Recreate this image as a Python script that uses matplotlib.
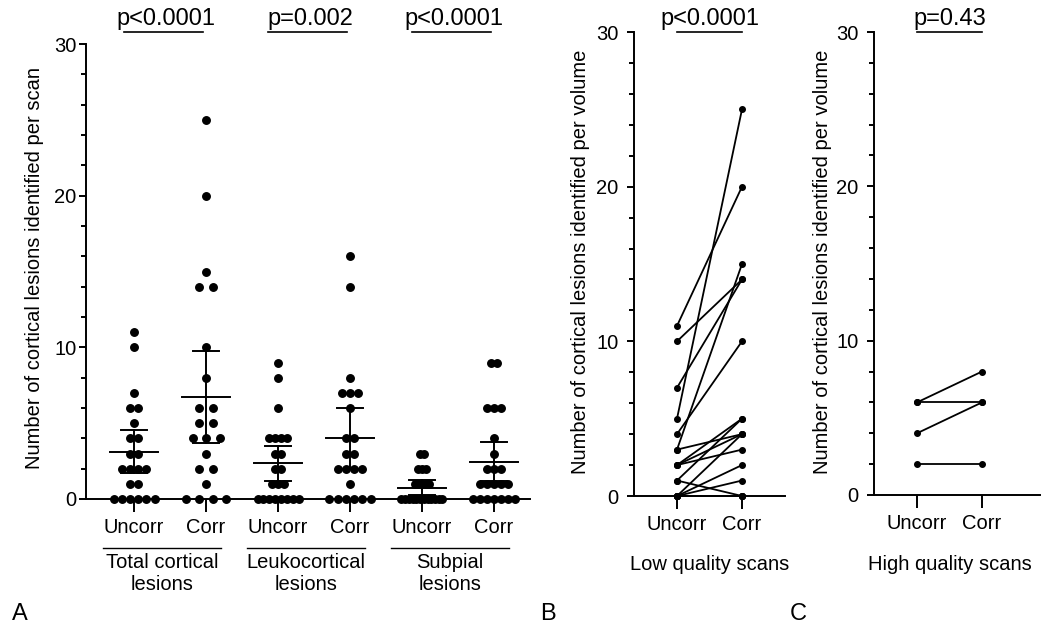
import matplotlib
matplotlib.use("Agg")
import matplotlib.pyplot as plt
import numpy as np

plt.rcParams["font.family"] = ["Liberation Sans", "DejaVu Sans"]
plt.rcParams["font.size"] = 14.5

W, H = 1050, 632

# ─── Dados ────────────────────────────────────────────────────────────────────

CATEGORIES = ["Uncorr", "Corr"]
GROUPS = ["Total cortical\nlesions", "Leukocortical\nlesions", "Subpial\nlesions"]

total_uncorr = [11, 10, 7, 6, 6, 5, 4, 4, 3, 3, 2, 2, 2, 2, 1, 1, 0, 0, 0, 0, 0, 0]
total_corr = [25, 20, 15, 14, 14, 10, 8, 6, 6, 5, 5, 4, 4, 4, 3, 2, 2, 1, 0, 0, 0, 0]
leuko_uncorr = [9, 8, 6, 4, 4, 4, 4, 3, 3, 2, 2, 1, 1, 1, 0, 0, 0, 0, 0, 0, 0, 0]
leuko_corr = [16, 14, 8, 7, 7, 7, 6, 4, 4, 3, 3, 2, 2, 2, 2, 1, 0, 0, 0, 0, 0, 0]
subpial_uncorr = [3, 3, 2, 2, 2, 1, 1, 1, 1, 1, 0, 0, 0, 0, 0, 0, 0, 0, 0, 0, 0, 0]
subpial_corr = [9, 9, 6, 6, 6, 4, 3, 2, 2, 2, 1, 1, 1, 1, 1, 0, 0, 0, 0, 0, 0, 0]

means = [3.12, 6.7, 2.35, 4.0, 0.75, 2.45]
ci_low = [1.74, 3.67, 1.2, 2.0, 0.25, 1.2]
ci_high = [4.55, 9.78, 3.5, 6.0, 1.25, 3.74]

p_values_a = ["p<0.0001", "p=0.002", "p<0.0001"]

# pares (Uncorr -> Corr) por volume
low_uncorr = [11, 10, 7, 5, 4, 3, 3, 2, 2, 2, 1, 1, 0, 0, 0, 0, 0, 0]
low_corr = [20, 14, 14, 25, 10, 15, 4, 5, 4, 3, 0, 5, 4, 2, 1, 0, 0, 0]
high_uncorr = [6, 6, 4, 2]
high_corr = [8, 6, 6, 2]
p_low = "p<0.0001"
p_high = "p=0.43"

PX_A = 72.0  # pixels por categoria no painel A


# ─── Helpers ──────────────────────────────────────────────────────────────────

def px_axes(left, right, bottom, top):
    return [left / W, (H - bottom) / H, (right - left) / W, (bottom - top) / H]


def swarm_offsets(values, width_px=41, max_step_px=13.5):
    """Espalha pontos iguais na horizontal, como no GraphPad: o espaçamento
    depende da linha mais cheia da coluna."""
    vals = np.asarray(values)
    _, counts = np.unique(vals, return_counts=True)
    widest = counts.max()
    step = max_step_px if widest < 2 else min(max_step_px, width_px / (widest - 1))
    step /= PX_A
    xs = np.zeros(len(vals))
    for v in np.unique(vals):
        idx = np.where(vals == v)[0]
        n = len(idx)
        xs[idx] = (np.arange(n) - (n - 1) / 2) * step
    return xs


def style_axis(ax, ypad=2):
    ax.set_ylim(0, 30)
    ax.set_yticks([0, 10, 20, 30])
    ax.set_yticks(np.arange(0, 31, 2), minor=True)
    for side in ("top", "right"):
        ax.spines[side].set_visible(False)
    for side in ("left", "bottom"):
        ax.spines[side].set_linewidth(1.4)
    ax.tick_params(axis="y", which="major", length=5, width=1.4, pad=ypad)
    ax.tick_params(axis="y", which="minor", length=3.5, width=1.4)
    ax.tick_params(axis="x", which="major", length=9, width=1.4, pad=5)
    ax.tick_params(axis="x", which="minor", length=0)


def ypx(y_pixel, bottom, top):
    # converte y em pixel da figura para fração do eixo
    return (bottom - y_pixel) / (bottom - top)


fig = plt.figure(figsize=(W / 100, H / 100), dpi=100)

# ─── Painel A ─────────────────────────────────────────────────────────────────

A_BOT, A_TOP = 499, 44
axA = fig.add_axes(px_axes(86, 530, A_BOT, A_TOP))
style_axis(axA)
axA.set_xlim((86 - 134) / PX_A, (530 - 134) / PX_A)

series = [total_uncorr, total_corr, leuko_uncorr, leuko_corr,
          subpial_uncorr, subpial_corr]
for i, vals in enumerate(series):
    xs = i + swarm_offsets(vals)
    axA.plot(xs, vals, "o", color="black", markersize=5.4, clip_on=False,
             zorder=3)
    axA.plot([i - 0.33, i + 0.33], [means[i]] * 2, color="black", lw=1.4,
             zorder=4, clip_on=False)
    axA.plot([i, i], [ci_low[i], ci_high[i]], color="black", lw=1.4, zorder=4)
    for c in (ci_low[i], ci_high[i]):
        axA.plot([i - 0.18, i + 0.18], [c, c], color="black", lw=1.4, zorder=4)

axA.set_xticks(range(6))
axA.set_xticklabels(CATEGORIES * 3)

tr = axA.get_xaxis_transform()
for g, label in enumerate(GROUPS):
    c = 2 * g + 0.5 - 0.11
    y_line = ypx(548, A_BOT, A_TOP)
    axA.plot([c - 0.82, c + 0.82], [y_line] * 2, color="black", lw=1.0,
             transform=tr, clip_on=False)
    axA.text(c, ypx(553, A_BOT, A_TOP), label, transform=tr,
             ha="center", va="top", linespacing=1.2)
    # comparação
    x0, x1 = 2 * g - 0.14, 2 * g + 1 - 0.04
    y_bar = ypx(32, A_BOT, A_TOP)
    axA.plot([x0, x1], [y_bar] * 2, color="black", lw=1.2, transform=tr,
             clip_on=False)
    axA.text((x0 + x1) / 2 + 0.04, y_bar + 0.005, p_values_a[g], transform=tr,
             ha="center", va="bottom", fontsize=17)

fig.text(35 / W, 1 - 268 / H, "Number of cortical lesions identified per scan",
         rotation=90, ha="center", va="center")


# ─── Painéis B e C ────────────────────────────────────────────────────────────

def paired_panel(left, right, bottom, top, x_cat0, uncorr, corr, ptext,
                 xlabel, ylabel_x):
    ax = fig.add_axes(px_axes(left, right, bottom, top))
    style_axis(ax, ypad=6)
    ax.set_xlim((left - x_cat0) / 65, (right - x_cat0) / 65)
    for u, c in zip(uncorr, corr):
        ax.plot([0, 1], [u, c], "-o", color="black", lw=1.3, markersize=4,
                clip_on=False, zorder=3)
    ax.set_xticks([0, 1])
    ax.set_xticklabels(CATEGORIES)
    t = ax.get_xaxis_transform()
    y_bar = ypx(32, bottom, top)
    ax.plot([0, 1], [y_bar] * 2, color="black", lw=1.2, transform=t,
            clip_on=False)
    ax.text(0.5, y_bar + 0.005, ptext, transform=t, ha="center", va="bottom",
            fontsize=17)
    ax.text(0.5, ypx(555, bottom, top), xlabel, transform=t,
            ha="center", va="top")
    fig.text(ylabel_x / W, 1 - 262 / H,
             "Number of cortical lesions identified per volume",
             rotation=90, ha="center", va="center")
    return ax


paired_panel(634, 785, 496, 32, 677, low_uncorr, low_corr, p_low,
             "Low quality scans", 580)
paired_panel(874, 1040, 495, 32, 917, high_uncorr, high_corr, p_high,
             "High quality scans", 822)

for letter, x in (("A", 12), ("B", 540), ("C", 790)):
    fig.text(x / W, 1 - 620 / H, letter, fontsize=17, ha="left",
             va="baseline")

fig.savefig("out.png", dpi=100)
